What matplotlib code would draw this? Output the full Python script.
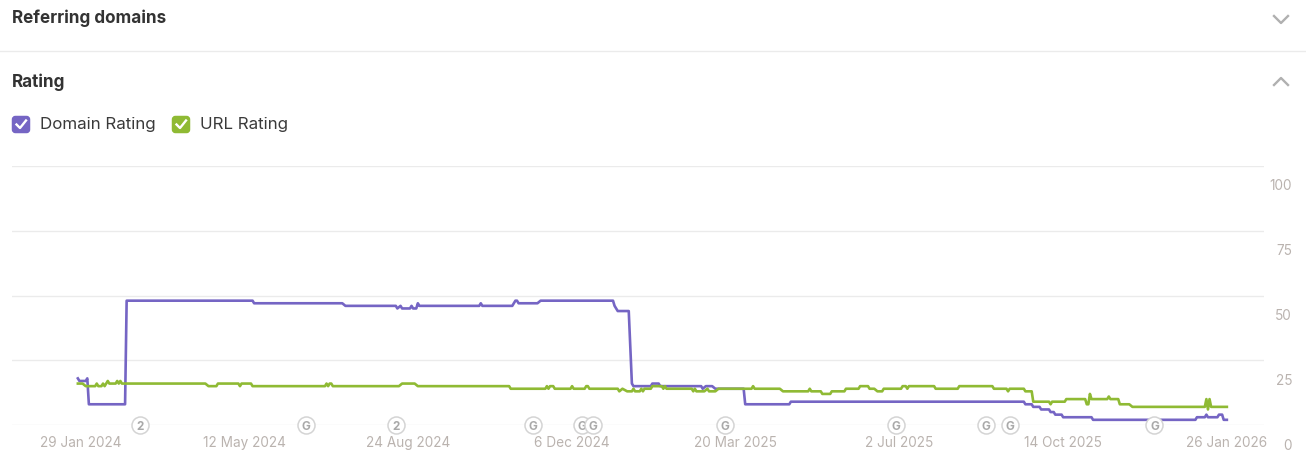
import numpy as np
import pandas as pd
import matplotlib
matplotlib.use("Agg")
import matplotlib.pyplot as plt
import matplotlib.dates as mdates
from matplotlib.patches import FancyBboxPatch
from matplotlib.transforms import ScaledTranslation

plt.rcParams['font.family'] = ['Inter', 'DejaVu Sans']

START = "2024-01-29"
# days since START, and rating
dr_days = [-2,-1,3,4,5,28,29,109,110,166,168,200,201,203,204,209,210,211,213,214,215,253,254,255,274,276,277,278,290,292,338,339,341,348,350,351,362,363,367,368,394,395,397,401,403,421,422,450,451,599,600,604,605,609,610,615,616,618,619,623,624,642,643,708,709,714,715,716,722,723,725,726,728]
dr_vals = [18,17,17,18,8,8,48,48,47,47,46,46,45,46,45,45,46,45,45,47,46,46,47,46,46,48,48,47,47,48,48,46,44,44,16,15,15,16,16,15,15,14,15,15,14,14,8,8,9,9,8,8,7,7,6,6,5,5,4,4,3,3,2,2,3,3,4,3,3,4,4,2,2]
ur_days = [-2,1,3,9,10,11,13,14,15,16,17,18,22,23,24,25,26,79,81,86,87,100,101,102,108,109,155,156,157,158,159,160,202,204,212,214,272,273,295,296,297,298,300,301,311,312,313,320,321,322,323,341,342,344,347,350,351,352,355,356,357,358,362,363,369,370,371,372,388,389,390,391,396,398,399,403,405,426,427,428,444,446,462,463,464,470,471,476,477,485,486,494,495,500,501,504,506,509,510,521,522,524,525,526,542,543,557,558,579,580,588,589,590,599,600,604,605,615,616,617,625,626,638,639,640,641,642,652,653,654,659,660,666,668,714,715,716,717,718,728]
ur_vals = [16,16,15,15,16,15,15,16,15,16,17,16,16,17,16,17,16,16,15,15,16,16,15,16,16,15,15,16,15,16,16,15,15,16,16,15,15,14,14,15,14,15,15,14,14,15,14,14,15,15,14,14,13,14,13,13,14,13,13,14,13,14,14,15,15,14,15,14,14,13,14,13,13,14,13,13,14,14,15,14,14,13,13,14,13,13,12,12,13,13,14,14,15,15,14,14,13,13,14,14,15,15,14,15,15,14,14,15,15,14,14,13,14,14,13,13,9,9,8,9,9,10,10,8,8,12,10,10,11,10,10,8,8,7,7,10,6,10,7,7]
tick_days = [0,104,208,312,416,520,624,728]
tick_labels = ["29 Jan 2024","12 May 2024","24 Aug 2024","6 Dec 2024","20 Mar 2025","2 Jul 2025","14 Oct 2025","26 Jan 2026"]
y_ticks = [0,25,50,75,100]
event_days = [37.5,143,200,287,318,325,409,518,575,590,682]
event_labels = ["2","G","2","G","G","G","G","G","G","G","G"]
series_names = ["Domain Rating","URL Rating"]
PURPLE, GREEN = "#7565c4", "#8fba34"
W, H = 1306, 462

def to_dates(days):
    return pd.Timestamp(START) + pd.to_timedelta(np.asarray(days, dtype=float), unit="D")

fig = plt.figure(figsize=(W/100, H/100), dpi=100, facecolor="white")
ax = fig.add_axes([12/W, 37/H, 1252/W, 259/H])
ax.plot(to_dates(dr_days), dr_vals, color=PURPLE, lw=1.9, zorder=3, label=series_names[0])
ax.plot(to_dates(ur_days), ur_vals, color=GREEN, lw=1.9, zorder=4, label=series_names[1])
t0 = mdates.date2num(pd.Timestamp(START))
ax.set_xlim(t0-43.84, t0+751.6)
ax.set_ylim(0, 100)
ax.set_xticks(mdates.date2num(to_dates(tick_days)))
ax.set_xticklabels(tick_labels, fontsize=9.8, color="#bab3af")
ax.set_yticks(y_ticks)
ax.set_yticklabels([str(v) for v in y_ticks], fontsize=9.8, color="#bab3af")
ax.yaxis.tick_right()
ax.tick_params(axis="x", length=0, pad=8)
ax.tick_params(axis="y", length=0, pad=20.2)
for lab in ax.get_yticklabels():
    lab.set_ha("right")
    lab.set_transform(lab.get_transform() + ScaledTranslation(0, -19/100, fig.dpi_scale_trans))
for s in ax.spines.values():
    s.set_visible(False)
ax.grid(axis="y", color="#ebebeb", lw=1)
ax.set_axisbelow(True)
ax.patch.set_visible(False)

for i, (d, l) in enumerate(zip(event_days, event_labels)):
    x = t0 + d
    ax.scatter([x], [0], s=150, facecolor="white", edgecolor="#d4d4d4", lw=1.1, clip_on=False, zorder=5+i)
    ax.text(x, 0, l, ha="center", va="center_baseline", fontsize=8.5, fontweight="bold", color="#a9a9a9", clip_on=False, zorder=5.5+i)

ov = fig.add_axes([0, 0, 1, 1], zorder=-1)
ov.set_xlim(0, W)
ov.set_ylim(H, 0)
ov.axis("off")
ov.plot([0, W], [50.5, 50.5], color="#ebebeb", lw=1)
ov.text(12, 18.5, "Referring domains", fontsize=12.3, fontweight="bold", color="#333333", va="center")
ov.text(12, 82.5, "Rating", fontsize=12.3, fontweight="bold", color="#333333", va="center")
ov.plot([1274, 1281, 1288], [16, 23, 16], color="#b0b0b0", lw=1.7)
ov.plot([1274, 1281, 1288], [85, 78, 85], color="#b0b0b0", lw=1.7)
for x, col, name, tx in [(12, PURPLE, series_names[0], 40), (172, GREEN, series_names[1], 200)]:
    ov.add_patch(FancyBboxPatch((x+1.5, 117.5), 15, 14, boxstyle="round,pad=0,rounding_size=2", mutation_aspect=1, fc=col, ec=col, lw=2.5))
    ov.plot([x+4.5, x+8, x+14], [124.5, 128, 120.5], color="white", lw=1.7)
    ov.text(tx, 124.5, name, fontsize=12.2, color="#3a3a3a", va="center")

fig.savefig("out.png", dpi=100)
